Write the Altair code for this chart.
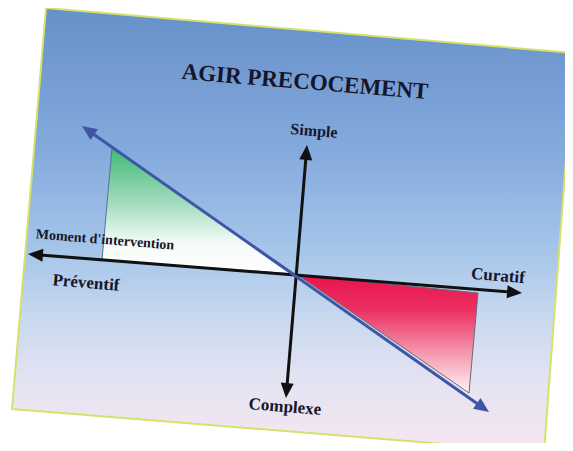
import math
import altair as alt
import pandas as pd

# ---- values (image coordinates, y downward) ----
panel_x = [12, 46, 544, 574]
panel_top = [409, 8, 50.5, 53]
panel_bottom = [409, 411.8, 452, 53]

green_x = [102, 112, 295]
green_top = [260, 148, 274]
green_bottom = [260, 260.7, 274]

red_x = [298, 469, 478]
red_top = [275, 292.1, 293]
red_bottom = [275, 393, 293]

axis_names = ["Moment d'intervention", "Simple / Complexe", "Diagonale"]
axis_x1 = [28, 307, 82]
axis_y1 = [254, 145, 126]
axis_x2 = [522, 286, 489]
axis_y2 = [293, 398, 412]
axis_colors = ["#111111", "#111111", "#3f55a6"]

labels = ["AGIR PRECOCEMENT", "Simple", "Moment d'intervention",
          "Préventif", "Curatif", "Complexe"]
label_x = [305, 314, 105, 86, 498, 285]
label_y = [82, 131, 240, 283, 276, 407]
label_size = [23, 16, 14, 17, 17, 17]
label_angle = 4.7

# ---- tables built from the arrays ----
panel = pd.DataFrame({"x": panel_x, "top": panel_top, "bottom": panel_bottom})
green = pd.DataFrame({"x": green_x, "top": green_top, "bottom": green_bottom})
red = pd.DataFrame({"x": red_x, "top": red_top, "bottom": red_bottom})

seg_rows, head_rows = [], []
for n, xa, ya, xb, yb, c in zip(axis_names, axis_x1, axis_y1, axis_x2, axis_y2, axis_colors):
    dx, dy = xb - xa, yb - ya
    L = math.hypot(dx, dy)
    ux, uy = dx / L, dy / L
    inset = 9
    seg_rows.append({"name": n, "x": xa + ux * inset, "y": ya + uy * inset,
                     "x2": xb - ux * inset, "y2": yb - uy * inset, "color": c})
    # head at end b (direction a->b) and at end a (direction b->a)
    head_rows.append({"x": xb, "y": yb, "angle": math.degrees(math.atan2(ux, -uy)) % 360, "color": c})
    head_rows.append({"x": xa, "y": ya, "angle": math.degrees(math.atan2(-ux, uy)) % 360, "color": c})
segs = pd.DataFrame(seg_rows)
heads = pd.DataFrame(head_rows)
texts = pd.DataFrame({"label": labels, "x": label_x, "y": label_y, "size": label_size})

xs = alt.Scale(domain=[8, 565])
ys = alt.Scale(domain=[8, 443], reverse=True)


def X(f):
    return alt.X(f, type="quantitative", scale=xs, axis=None)


def Y(f):
    return alt.Y(f, type="quantitative", scale=ys, axis=None)


panel_layer = alt.Chart(panel).mark_area(
    stroke="#d5e26a", strokeWidth=2,
    color=alt.Gradient(
        gradient="linear", x1=0, y1=0, x2=0, y2=1,
        stops=[
            alt.GradientStop(color="#6690c8", offset=0),
            alt.GradientStop(color="#84aadd", offset=0.32),
            alt.GradientStop(color="#a6c6ea", offset=0.55),
            alt.GradientStop(color="#c8d9ef", offset=0.70),
            alt.GradientStop(color="#e4e3f2", offset=0.84),
            alt.GradientStop(color="#f7e6f1", offset=1),
        ],
    ),
).encode(x=X("x"), y=Y("top"), y2="bottom")

green_layer = alt.Chart(green).mark_area(
    stroke="#5a6f9a", strokeWidth=1,
    color=alt.Gradient(
        gradient="linear", x1=0, y1=0, x2=0, y2=1,
        stops=[
            alt.GradientStop(color="#3fba78", offset=0),
            alt.GradientStop(color="#a6dcc0", offset=0.45),
            alt.GradientStop(color="#f4fbf7", offset=0.75),
            alt.GradientStop(color="#ffffff", offset=1),
        ],
    ),
).encode(x=X("x"), y=Y("top"), y2="bottom")

red_layer = alt.Chart(red).mark_area(
    stroke="#6a6a7a", strokeWidth=1,
    color=alt.Gradient(
        gradient="linear", x1=0, y1=0, x2=0, y2=1,
        stops=[
            alt.GradientStop(color="#e8144c", offset=0),
            alt.GradientStop(color="#ec3062", offset=0.3),
            alt.GradientStop(color="#f5a3b6", offset=0.7),
            alt.GradientStop(color="#fff2f5", offset=1),
        ],
    ),
).encode(x=X("x"), y=Y("top"), y2="bottom")

seg_layer = alt.Chart(segs).mark_rule(strokeWidth=3).encode(
    x=X("x"), y=Y("y"), x2="x2", y2="y2",
    color=alt.Color("color:N", scale=None),
)

head_layer = alt.Chart(heads).mark_point(
    shape="M0,0L-0.5,1.15L0.5,1.15Z", size=676, filled=True, opacity=1, strokeWidth=0,
).encode(
    x=X("x"), y=Y("y"),
    angle=alt.Angle("angle:Q", scale=None),
    color=alt.Color("color:N", scale=None),
)

text_layer = alt.Chart(texts).mark_text(
    font="Liberation Serif", fontWeight="bold", color="#16162a",
    angle=label_angle, align="center", baseline="middle",
).encode(
    x=X("x"), y=Y("y"), text="label:N",
    size=alt.Size("size:Q", scale=None),
)

chart = alt.layer(
    panel_layer, green_layer, red_layer, seg_layer, head_layer, text_layer
).properties(
    width=557, height=435, padding=0, autosize="none", background="white"
).configure_view(stroke=None)

chart.save("out.html", embed_options={"renderer": "svg", "actions": False})
